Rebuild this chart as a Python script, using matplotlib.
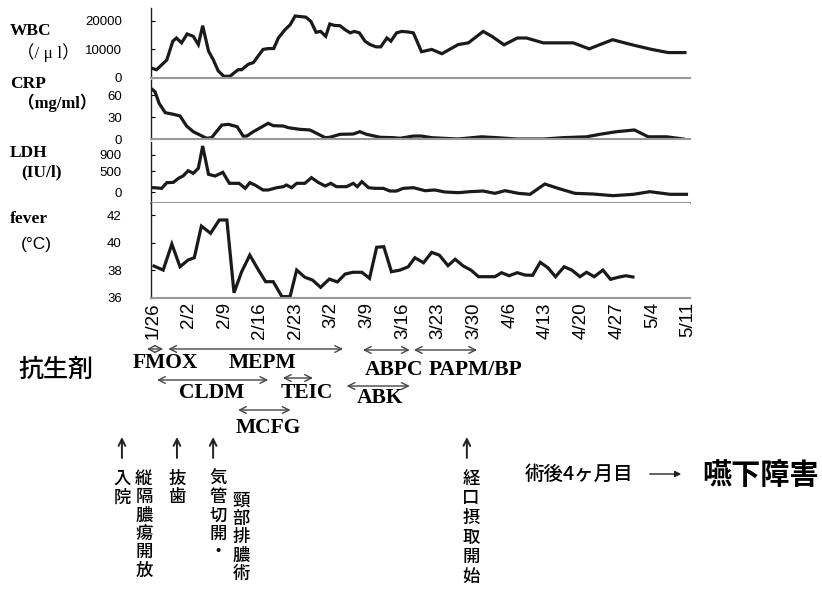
import matplotlib
matplotlib.use('Agg')
import matplotlib.pyplot as plt
from matplotlib.transforms import blended_transform_factory

W, H = 822, 596

# eje x: dias desde el 1/26
fechas = ['1/26', '2/2', '2/9', '2/16', '2/23', '3/2', '3/9', '3/16',
          '3/23', '3/30', '4/6', '4/13', '4/20', '4/27', '5/4', '5/11']
dias_ticks = [7 * i for i in range(len(fechas))]

# WBC (/ul)
wbc_dia = [-0.3, 0.7, 2.7, 3.9, 4.6, 5.6, 6.7, 7.9, 8.9, 9.75, 10.9, 11.8, 12.8, 13.9,
           15.1, 16.7, 17.4, 18.7, 19.7, 21.6, 22.6, 23.7, 24.6, 25.9, 26.9, 27.9, 28.9,
           30.0, 31.0, 32.0, 32.9, 33.9, 34.7, 35.6, 36.7, 37.7, 38.7, 39.5, 40.5, 41.6,
           42.6, 43.8, 44.7, 45.9, 46.7, 47.8, 48.8, 50.1, 51.1, 52.7, 54.7, 56.7, 59.9,
           61.9, 64.8, 66.5, 68.9, 71.5, 73.3, 76.6, 82.5, 85.6, 90.2, 94.3, 97.9, 101.1, 104.4]
wbc_val = [3450, 2900, 6300, 12900, 14000, 12300, 15400, 14600, 11700, 18300, 9400, 6500,
           2500, 600, 600, 2900, 2900, 4800, 5400, 10000, 10300, 10300, 14000, 16900, 18600,
           21700, 21500, 21300, 19800, 16000, 16300, 14600, 18900, 18400, 18300, 16900, 15800,
           16300, 15800, 12900, 11700, 10900, 10900, 14000, 12900, 15800, 16300, 16100, 15800,
           9200, 10000, 8500, 11700, 12300, 16300, 14600, 11600, 14000, 14000, 12300, 12300,
           10200, 13400, 11500, 10000, 8900, 8900]

# CRP (mg/ml)
crp_dia = [-0.4, 0.4, 1.2, 2.4, 4.0, 5.3, 6.6, 7.9, 9.2, 10.5, 11.5, 13.5, 14.8, 16.5,
           17.7, 18.4, 19.7, 22.6, 23.6, 25.6, 26.6, 28.8, 30.8, 33.8, 34.7, 36.7, 39.3,
           40.6, 41.9, 44.6, 47.2, 48.5, 51.1, 52.7, 54.7, 57.0, 59.9, 64.5, 67.5, 71.4,
           76.6, 80.5, 85.1, 87.7, 91.0, 94.5, 97.2, 100.8, 104.1]
crp_val = [69, 64.5, 48.7, 35.9, 33.7, 31.4, 17.7, 10, 5.5, 1, 1.8, 19, 20, 16.8, 4, 4,
           10, 21.4, 18.2, 17.7, 15.4, 13.2, 12.3, 1.8, 2.3, 6.4, 6.8, 10, 6.4, 2.3, 1.8,
           1, 4, 4, 1.8, 1, 0, 3, 1.8, 0, 0, 1.8, 3, 6.4, 10, 12.3, 3, 3, 0]

# LDH (IU/l)
ldh_dia = [0.1, 1.7, 2.7, 4.0, 5.0, 5.9, 6.9, 7.9, 8.9, 9.75, 10.9, 12.2, 13.7, 15.0,
           16.9, 18.1, 19.0, 20.0, 21.6, 22.6, 24.3, 25.6, 26.2, 27.2, 28.2, 29.8, 31.1,
           32.4, 33.8, 34.9, 36.0, 38.0, 39.3, 40.1, 41.0, 42.3, 43.6, 45.2, 46.5, 47.8,
           49.1, 51.1, 53.4, 55.3, 57.3, 59.9, 62.2, 64.8, 67.1, 69.1, 71.7, 74.0, 76.9,
           79.5, 82.8, 86.4, 90.3, 94.3, 97.5, 101.5, 104.7]
ldh_val = [105, 89, 226, 235, 333, 389, 518, 454, 576, 1118, 429, 389, 478, 211, 211, 89,
           226, 170, 49, 49, 105, 130, 170, 105, 211, 211, 348, 235, 146, 211, 130, 130,
           211, 130, 251, 105, 89, 89, 24, 24, 89, 105, 32, 49, 0, -16, 8, 24, -32, 32,
           -32, -56, 194, 89, -32, -49, -89, -56, 8, -56, -56]

# fever (C)
fiebre_dia = [0.2, 2.0, 3.7, 5.3, 6.9, 8.1, 9.5, 11.3, 13.0, 14.5, 15.9, 17.4, 19.0, 20.7,
              22.1, 23.6, 25.3, 26.9, 28.2, 29.8, 31.3, 32.9, 34.6, 36.2, 37.7, 39.2, 41.0,
              42.5, 43.9, 45.3, 46.8, 48.5, 50.1, 51.4, 53.1, 54.7, 56.2, 57.9, 59.3, 60.9,
              62.4, 63.9, 67.1, 68.4, 69.9, 71.5, 73.0, 74.5, 76.0, 77.5, 79.0, 80.7, 82.2,
              83.8, 85.1, 86.6, 88.3, 89.8, 91.3, 92.8, 94.2]
fiebre_val = [38.31, 38.02, 39.9, 38.26, 38.75, 38.91, 41.2, 40.68, 41.64, 41.64, 36.38,
              37.9, 39.1, 38.02, 37.18, 37.18, 36.1, 36.1, 38.02, 37.5, 37.3, 36.77, 37.37,
              37.16, 37.73, 37.86, 37.86, 37.42, 39.67, 39.71, 37.9, 38.02, 38.26, 38.91,
              38.55, 39.3, 39.1, 38.34, 38.8, 38.31, 38.02, 37.54, 37.54, 37.83, 37.61, 37.83,
              37.66, 37.64, 38.58, 38.19, 37.54, 38.26, 38.02, 37.54, 37.86, 37.54, 38.02,
              37.35, 37.5, 37.61, 37.52]

# antibioticos: nombre, dia inicio, dia fin
abx_nombre = ['FMOX', 'MEPM', 'ABPC', 'PAPM/BP', 'CLDM', 'TEIC', 'ABK', 'MCFG']
abx_inicio = [-1.2, 3.0, 41.2, 51.2, 0.8, 25.5, 38.0, 16.7]
abx_fin = [2.0, 37.3, 50.4, 63.6, 22.6, 31.4, 50.4, 27.0]

# eventos clinicos
eventos_dia = [-6.1, 4.7, 11.8, 61.6]
eventos_texto = [['入院', '縦隔膿瘍開放'], ['抜歯'], ['気管切開・', '頸部排膿術'], ['経口摂取開始']]

SERIF = ['Liberation Serif', 'Noto Sans CJK JP']
SANS = ['Liberation Sans', 'Noto Sans CJK JP']
CJK = ['Noto Sans CJK JP', 'DejaVu Sans']

fig = plt.figure(figsize=(W / 100, H / 100), dpi=100)
fig.patch.set_facecolor('white')

x0, x1 = 151, 690
xmin = -2 / 5.095
xmax = xmin + (x1 - x0) / 5.095


def panel(top, bottom, ylim, ticks):
    ax = fig.add_axes([x0 / W, 1 - bottom / H, (x1 - x0) / W, (bottom - top) / H])
    ax.set_xlim(xmin, xmax)
    ax.set_ylim(*ylim)
    ax.set_yticks(ticks)
    ax.set_yticklabels([str(t) for t in ticks], fontfamily=SANS, fontsize=9.5)
    ax.tick_params(axis='y', direction='in', length=3, width=0.8, pad=21)
    for s in ['top', 'right']:
        ax.spines[s].set_visible(False)
    ax.spines['left'].set_color('#222222')
    ax.spines['left'].set_linewidth(1)
    ax.spines['bottom'].set_color('#999999')
    ax.spines['bottom'].set_linewidth(1.5)
    ax.set_xticks(dias_ticks)
    ax.tick_params(axis='x', length=0)
    ax.set_xticklabels([])
    return ax


ax1 = panel(8, 78, (0, 24500), [0, 10000, 20000])
ax2 = panel(80, 139, (0, 80.5), [0, 30, 60])
ax3 = panel(142, 203, (-267, 1215), [0, 500, 900])
ax4 = panel(203, 298, (36, 42.87), [36, 38, 40, 42])

lw = 2.3
ax1.plot(wbc_dia, wbc_val, color='#1a1a1a', lw=lw, solid_joinstyle='miter')
ax2.plot(crp_dia, crp_val, color='#1a1a1a', lw=lw, solid_joinstyle='miter')
ax3.plot(ldh_dia, ldh_val, color='#1a1a1a', lw=lw, solid_joinstyle='miter')
ax4.plot(fiebre_dia, fiebre_val, color='#1a1a1a', lw=lw, solid_joinstyle='miter')

ax4.set_xticklabels(fechas, rotation=90, fontfamily=SANS, fontsize=13.5,
                    va='top', ha='center')
ax4.tick_params(axis='x', pad=3)


def fx(x):
    return x / W


def fy(y):
    return 1 - y / H


# etiquetas de la izquierda
fig.text(fx(10), fy(31), 'WBC', fontfamily=SERIF, fontweight='bold', fontsize=12.5, va='center')
fig.text(fx(17), fy(53), '（/ μ l）', fontfamily=SERIF, fontsize=12.5, va='center')
fig.text(fx(10), fy(84), 'CRP', fontfamily=SERIF, fontweight='bold', fontsize=12.5, va='center')
fig.text(fx(18), fy(103), '（mg/ml）', fontfamily=SERIF, fontweight='bold', fontsize=12, va='center')
fig.text(fx(10), fy(153), 'LDH', fontfamily=SERIF, fontweight='bold', fontsize=12.5, va='center')
fig.text(fx(21), fy(172), '(IU/l)', fontfamily=SERIF, fontweight='bold', fontsize=12.5, va='center')
fig.text(fx(10), fy(219), 'fever', fontfamily=SERIF, fontweight='bold', fontsize=12.5, va='center')
fig.text(fx(21), fy(245), '(°C)', fontfamily=SANS, fontsize=12.5, va='center')

# antibioticos
trans = blended_transform_factory(ax4.transData, fig.transFigure)
abx_y_flecha = [349, 349, 350, 350, 380, 378, 386, 410]
abx_y_texto = [363, 363, 370, 370, 393, 393, 398, 428]
abx_x_texto = [2.4, 21.4, 47.3, 63.4, 11.6, 30.2, 44.6, 22.6]
for nombre, a, b, yf, xt, yt in zip(abx_nombre, abx_inicio, abx_fin,
                                    abx_y_flecha, abx_x_texto, abx_y_texto):
    ax4.annotate('', xy=(b, fy(yf)), xytext=(a, fy(yf)), xycoords=trans, textcoords=trans,
                 arrowprops=dict(arrowstyle='<->', color='#444444', lw=1,
                                 shrinkA=0, shrinkB=0, mutation_scale=12),
                 annotation_clip=False)
    ax4.text(xt, fy(yt), nombre, transform=trans, ha='center', va='center',
             fontfamily=SERIF, fontweight='bold', fontsize=15.5, clip_on=False)

fig.text(fx(18), fy(370), '抗生剤', fontfamily=CJK, fontweight='medium', fontsize=18, va='center')

# eventos con flechas y texto vertical (columnas: desplazamiento x, y inicial)
columnas = [[(0, 479), (22, 479)], [(0, 479)], [(5, 479), (28, 501)], [(4, 479)]]
pasos = [18.3, 18.4, 18.2, 19.5]
for dia, textos, cols, paso in zip(eventos_dia, eventos_texto, columnas, pasos):
    ax4.annotate('', xy=(dia, fy(437)), xytext=(dia, fy(458)), xycoords=trans, textcoords=trans,
                 arrowprops=dict(arrowstyle='->', color='#222222', lw=1.4,
                                 shrinkA=0, shrinkB=0, mutation_scale=12),
                 annotation_clip=False)
    for txt, (dx, y_ini) in zip(textos, cols):
        for k, ch in enumerate(txt):
            ax4.text(dia + dx / 5.095, fy(y_ini + k * paso), ch, transform=trans, ha='center',
                     va='center', fontfamily=CJK, fontweight='medium', fontsize=12.5,
                     clip_on=False)

fig.text(fx(525), fy(474), '術後4ヶ月目', fontfamily=CJK, fontweight='medium', fontsize=14, va='center')
fig.add_artist(matplotlib.patches.FancyArrowPatch((fx(647), fy(474)), (fx(684), fy(474)),
                                                   transform=fig.transFigure,
                                                   arrowstyle='-|>', mutation_scale=9,
                                                   color='#222222', lw=1))
fig.text(fx(702), fy(475), '嚥下障害', fontfamily=CJK, fontweight='bold', fontsize=21, va='center')

fig.savefig('out.png', dpi=100)
